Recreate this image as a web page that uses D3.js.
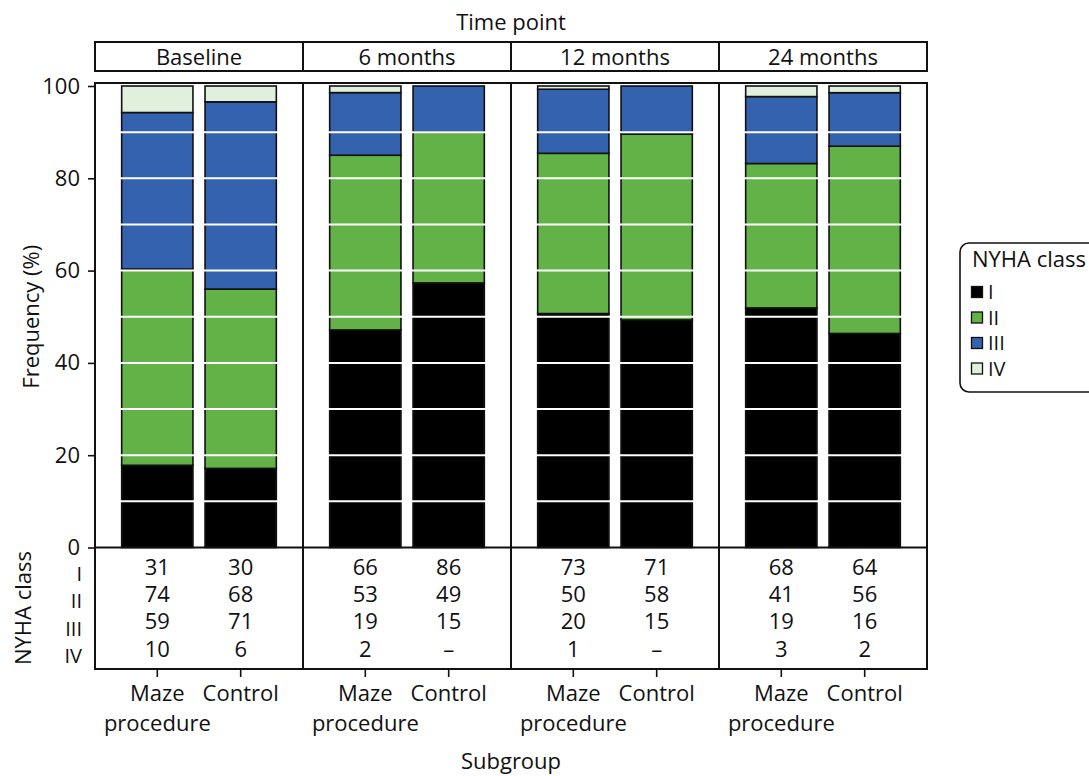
<!DOCTYPE html>
<html>
<head>
<meta charset="utf-8">
<script src="https://cdn.jsdelivr.net/npm/d3@7"></script>
<style>
  html, body { margin: 0; padding: 0; background: #fff; }
  svg { display: block; }
  text { font-family: "Open Sans", "Noto Sans", sans-serif; fill: #111; }
</style>
</head>
<body>
<svg id="chart" width="1089" height="776"></svg>
<script>
// Time points (facets) and subgroups within each facet
const timePoints = ["Baseline", "6 months", "12 months", "24 months"];
const subgroups = ["Maze procedure", "Control"];
const classes = ["I", "II", "III", "IV"];
const classColors = ["#000000", "#63b247", "#3462ae", "#e1f0dc"];

// Patient counts per NYHA class (I, II, III, IV); 0 shown as a dash
const countsMaze = [
  [31, 74, 59, 10],
  [66, 53, 19, 2],
  [73, 50, 20, 1],
  [68, 41, 19, 3]
];
const countsControl = [
  [30, 68, 71, 6],
  [86, 49, 15, 0],
  [71, 58, 15, 0],
  [64, 56, 16, 2]
];
const yTicks = [0, 20, 40, 60, 80, 100];
const gridLines = [10, 20, 30, 40, 50, 60, 70, 80, 90];

const FS = 22;
const svg = d3.select("#chart");
const plotLeft = 95, plotRight = 927, plotTop = 83, plotBottom = 547.5, tableBottom = 669;
const stripTop = 42, stripBottom = 71;

const xFacet = d3.scaleBand().domain(timePoints).range([plotLeft, plotRight]);
const xSub = d3.scaleBand().domain(subgroups)
  .range([0, xFacet.bandwidth()]).paddingInner(0.145).paddingOuter(0.32);
const y = d3.scaleLinear().domain([0, 100]).range([plotBottom, 86]);

// Build stacked percentages from the counts
const rows = [];
timePoints.forEach((tp, i) => {
  [countsMaze[i], countsControl[i]].forEach((counts, j) => {
    const total = d3.sum(counts);
    let cum = 0;
    counts.forEach((c, k) => {
      const pct = c / total * 100;
      rows.push({ tp, sub: subgroups[j], cls: k, y0: cum, y1: cum + pct, count: c });
      cum += pct;
    });
  });
});

// Bars
const barG = svg.append("g");
barG.selectAll("rect").data(rows.filter(d => d.count > 0)).join("rect")
  .attr("x", d => xFacet(d.tp) + xSub(d.sub))
  .attr("width", xSub.bandwidth())
  .attr("y", d => y(d.y1))
  .attr("height", d => y(d.y0) - y(d.y1))
  .attr("fill", d => classColors[d.cls])
  .attr("stroke", "#111")
  .attr("stroke-width", 1.6);

// White reference lines over the bars
svg.append("g").selectAll("line").data(gridLines).join("line")
  .attr("x1", plotLeft).attr("x2", plotRight)
  .attr("y1", d => y(d)).attr("y2", d => y(d))
  .attr("stroke", "#fff").attr("stroke-width", 2);

// Panel frames (plot + count table)
const frameG = svg.append("g").attr("fill", "none").attr("stroke", "#111").attr("stroke-width", 2);
frameG.append("rect").attr("x", plotLeft).attr("y", plotTop).attr("width", plotRight - plotLeft).attr("height", tableBottom - plotTop);
frameG.append("line").attr("x1", plotLeft).attr("x2", plotRight).attr("y1", plotBottom).attr("y2", plotBottom);
timePoints.slice(1).forEach(tp => {
  frameG.append("line").attr("x1", xFacet(tp)).attr("x2", xFacet(tp)).attr("y1", plotTop).attr("y2", tableBottom);
});

// Strip headers
const stripG = svg.append("g");
timePoints.forEach(tp => {
  stripG.append("rect").attr("x", xFacet(tp)).attr("y", stripTop)
    .attr("width", xFacet.bandwidth()).attr("height", stripBottom - stripTop)
    .attr("fill", "#fff").attr("stroke", "#111").attr("stroke-width", 2);
  stripG.append("text").attr("x", xFacet(tp) + xFacet.bandwidth() / 2).attr("y", 65)
    .attr("text-anchor", "middle").attr("font-size", FS).text(tp);
});
svg.append("text").attr("x", (plotLeft + plotRight) / 2).attr("y", 30)
  .attr("text-anchor", "middle").attr("font-size", FS).text("Time point");

// Y axis
const yAxis = svg.append("g").attr("transform", `translate(${plotLeft},0)`)
  .call(d3.axisLeft(y).tickValues(yTicks).tickSize(7).tickPadding(8));
yAxis.select(".domain").remove();
yAxis.selectAll("line").attr("stroke", "#111").attr("stroke-width", 1.6);
yAxis.selectAll("text").attr("font-size", FS).attr("font-family", "Open Sans, Noto Sans, sans-serif").attr("fill", "#111");
svg.append("text").attr("transform", `translate(39,${(86 + plotBottom) / 2}) rotate(-90)`)
  .attr("text-anchor", "middle").attr("font-size", FS).text("Frequency (%)");

// Count table
const rowY = d3.scalePoint().domain(classes).range([567, 649]);
const labelY = d3.scalePoint().domain(classes).range([574, 656]);
const tableG = svg.append("g");
classes.forEach(c => {
  tableG.append("text").attr("x", 82).attr("y", labelY(c)).attr("dy", "0.35em")
    .attr("text-anchor", "end").attr("font-size", 20).text(c);
});
tableG.selectAll("text.count").data(rows).join("text").attr("class", "count")
  .attr("x", d => xFacet(d.tp) + xSub(d.sub) + xSub.bandwidth() / 2)
  .attr("y", d => rowY(classes[d.cls])).attr("dy", "0.35em")
  .attr("text-anchor", "middle").attr("font-size", FS)
  .text(d => d.count > 0 ? d.count : "\u2013");
svg.append("text").attr("transform", `translate(31,608) rotate(-90)`)
  .attr("text-anchor", "middle").attr("font-size", FS).text("NYHA class");

// Subgroup ticks and labels (each word on its own line)
const subG = svg.append("g");
timePoints.forEach(tp => {
  subgroups.forEach(s => {
    const cx = xFacet(tp) + xSub(s) + xSub.bandwidth() / 2;
    subG.append("line").attr("x1", cx).attr("x2", cx).attr("y1", tableBottom).attr("y2", tableBottom + 8)
      .attr("stroke", "#111").attr("stroke-width", 1.6);
    s.split(" ").forEach((w, i) => {
      subG.append("text").attr("x", cx).attr("y", 701 + i * 30)
        .attr("text-anchor", "middle").attr("font-size", FS).text(w);
    });
  });
});
svg.append("text").attr("x", (plotLeft + plotRight) / 2).attr("y", 769)
  .attr("text-anchor", "middle").attr("font-size", FS).text("Subgroup");

// Legend
const legG = svg.append("g").attr("transform", "translate(960,243)");
legG.append("rect").attr("x", 0).attr("y", 0).attr("width", 150).attr("height", 149)
  .attr("rx", 9).attr("fill", "#fff").attr("stroke", "#111").attr("stroke-width", 1.6);
legG.append("text").attr("x", 12).attr("y", 24).attr("font-size", FS).text("NYHA class");
classes.forEach((c, k) => {
  const yy = 49 + k * 25.5;
  legG.append("rect").attr("x", 11.5).attr("y", yy - 5.5).attr("width", 11).attr("height", 11)
    .attr("fill", classColors[k]).attr("stroke", "#111").attr("stroke-width", 1.3);
  legG.append("text").attr("x", 28).attr("y", yy).attr("dy", "0.35em").attr("font-size", 20).text(c);
});
</script>
</body>
</html>
